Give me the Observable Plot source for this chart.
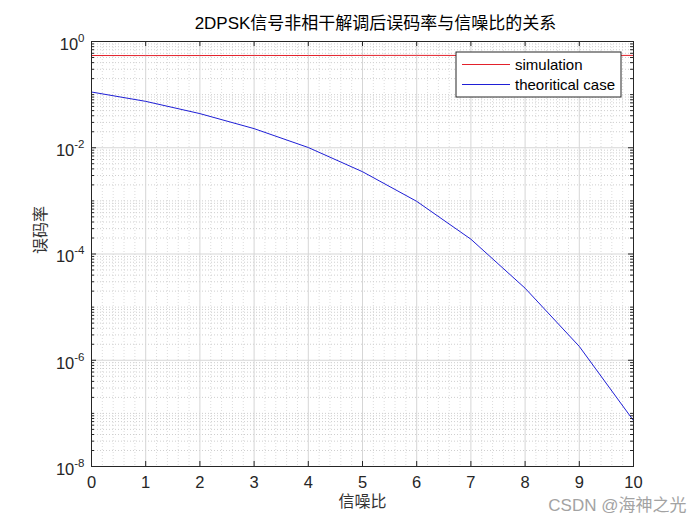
<!DOCTYPE html>
<html><head><meta charset="utf-8">
<script src="https://cdn.jsdelivr.net/npm/d3@7"></script>
<script src="https://cdn.jsdelivr.net/npm/@observablehq/plot@0.6"></script>
<style>
body{margin:0;background:#fff;}
#chart{width:700px;height:525px;}
</style></head><body><div id="chart"></div>
<script>
const titleText = "2DPSK信号非相干解调后误码率与信噪比的关系";
const xLabel = "信噪比";
const yLabel = "误码率";
const watermark = "CSDN @海神之光";
const seriesNames = ["simulation", "theoritical case"];
const seriesColors = ["#e3212b", "#1f1fd6"];
const snr = [0, 1, 2, 3, 4, 5, 6, 7, 8, 9, 10];
const simulationBer = [0.545, 0.543, 0.544, 0.546, 0.545, 0.547, 0.548, 0.546, 0.549, 0.548, 0.547];
const theoryBer = [0.112, 0.0747, 0.0439, 0.0229, 0.0101, 0.00354, 0.00098, 0.00019, 2.27e-5, 1.82e-6, 7.3e-8];
const xTicks = [0, 1, 2, 3, 4, 5, 6, 7, 8, 9, 10];
const yTicks = [1, 1e-2, 1e-4, 1e-6, 1e-8];

const rows = snr.flatMap((s, i) => [
  {snr: s, ber: simulationBer[i], series: seriesNames[0]},
  {snr: s, ber: theoryBer[i], series: seriesNames[1]}
]);

const W = 700, H = 525, mt = 41, mb = 59, ml = 91, mr = 67;
const fw = W - ml - mr, fh = H - mt - mb;

const yMinor = [];
for (let e = -8; e < 0; e++) for (let k = 1; k < 10; k++) {
  const v = k * Math.pow(10, e);
  if (!(k === 1 && e % 2 === 0)) yMinor.push(v);
}
const xMinor = [];
for (let i = 0; i <= 50; i++) if (i % 5 !== 0) xMinor.push(i / 5);

const ink = "#262626";
const plot = Plot.plot({
  width: W, height: H,
  marginTop: mt, marginBottom: mb, marginLeft: ml, marginRight: mr,
  style: {fontFamily: "'Liberation Sans', Arial, 'Noto Sans CJK SC', sans-serif", fontSize: "16px", color: ink, background: "#fff", overflow: "visible"},
  x: {domain: [0, 10]},
  y: {type: "log", domain: [1e-8, 1]},
  color: {domain: seriesNames, range: seriesColors},
  marks: [
    Plot.ruleX(xMinor, {x: d => d, stroke: "#dcdcdc", strokeDasharray: "1,2"}),
    Plot.ruleY(yMinor, {y: d => d, stroke: "#cfcfcf", strokeDasharray: "1,2"}),
    Plot.ruleX(xTicks, {x: d => d, stroke: "#d6d6d6"}),
    Plot.ruleY(yTicks, {y: d => d, stroke: "#d6d6d6"}),
    Plot.line(rows, {x: "snr", y: "ber", z: "series", stroke: "series", strokeWidth: 1}),
    Plot.frame({stroke: ink}),
    Plot.tickX(xTicks, {x: d => d, insetTop: fh - 5, stroke: ink}),
    Plot.tickX(xTicks, {x: d => d, insetBottom: fh - 5, stroke: ink}),
    Plot.tickY(yTicks, {y: d => d, insetRight: fw - 5, stroke: ink}),
    Plot.tickY(yTicks, {y: d => d, insetLeft: fw - 5, stroke: ink}),
    Plot.tickY(yMinor, {y: d => d, insetRight: fw - 3, stroke: ink}),
    Plot.tickY(yMinor, {y: d => d, insetLeft: fw - 3, stroke: ink}),
    Plot.axisX(xTicks, {tickSize: 0, tickPadding: 10, fontSize: 16.5, label: null}),
    Plot.axisY(yTicks, {tickSize: 0, tickPadding: 7, fontSize: 16.5, label: null,
      tickFormat: d => "10^" + Math.round(Math.log10(d))}),
    Plot.text([titleText], {frameAnchor: "top", dx: 13, dy: -25, fontSize: 17, fill: "#000"}),
    Plot.text([xLabel], {frameAnchor: "bottom", dy: 40, fontSize: 16, fill: "#333"}),
    Plot.text([yLabel], {frameAnchor: "left", dx: -51, rotate: -90, fontSize: 16, fill: "#333"}),
    Plot.text([watermark], {frameAnchor: "bottom-right", dx: 53, dy: 44, textAnchor: "end", fontSize: 17, fill: "#a3a3a3"})
  ]
});

const ns = "http://www.w3.org/2000/svg";
d3.select(plot).selectAll('g[aria-label="y-axis tick label"] text').each(function() {
  const [b, e] = this.textContent.split("^");
  this.textContent = "";
  const t1 = document.createElementNS(ns, "tspan");
  t1.textContent = b; t1.setAttribute("dy", "3");
  const t2 = document.createElementNS(ns, "tspan");
  t2.textContent = e; t2.setAttribute("dy", "-8"); t2.setAttribute("font-size", "11.5");
  this.append(t1, t2);
});

// legend
const lg = d3.select(plot).append("g").attr("font-size", 15).attr("fill", "#000").attr("text-anchor", "start");
lg.append("rect").attr("x", 456).attr("y", 52).attr("width", 165).attr("height", 45)
  .attr("fill", "#fff").attr("stroke", ink);
seriesNames.forEach((name, i) => {
  const cy = 64.5 + i * 20;
  lg.append("line").attr("x1", 462).attr("x2", 510).attr("y1", cy).attr("y2", cy)
    .attr("stroke", seriesColors[i]).attr("stroke-width", 1);
  lg.append("text").attr("x", 515).attr("y", cy).attr("dy", "0.35em").attr("text-anchor", "start").text(name);
});

document.getElementById("chart").append(plot);
</script></body></html>
